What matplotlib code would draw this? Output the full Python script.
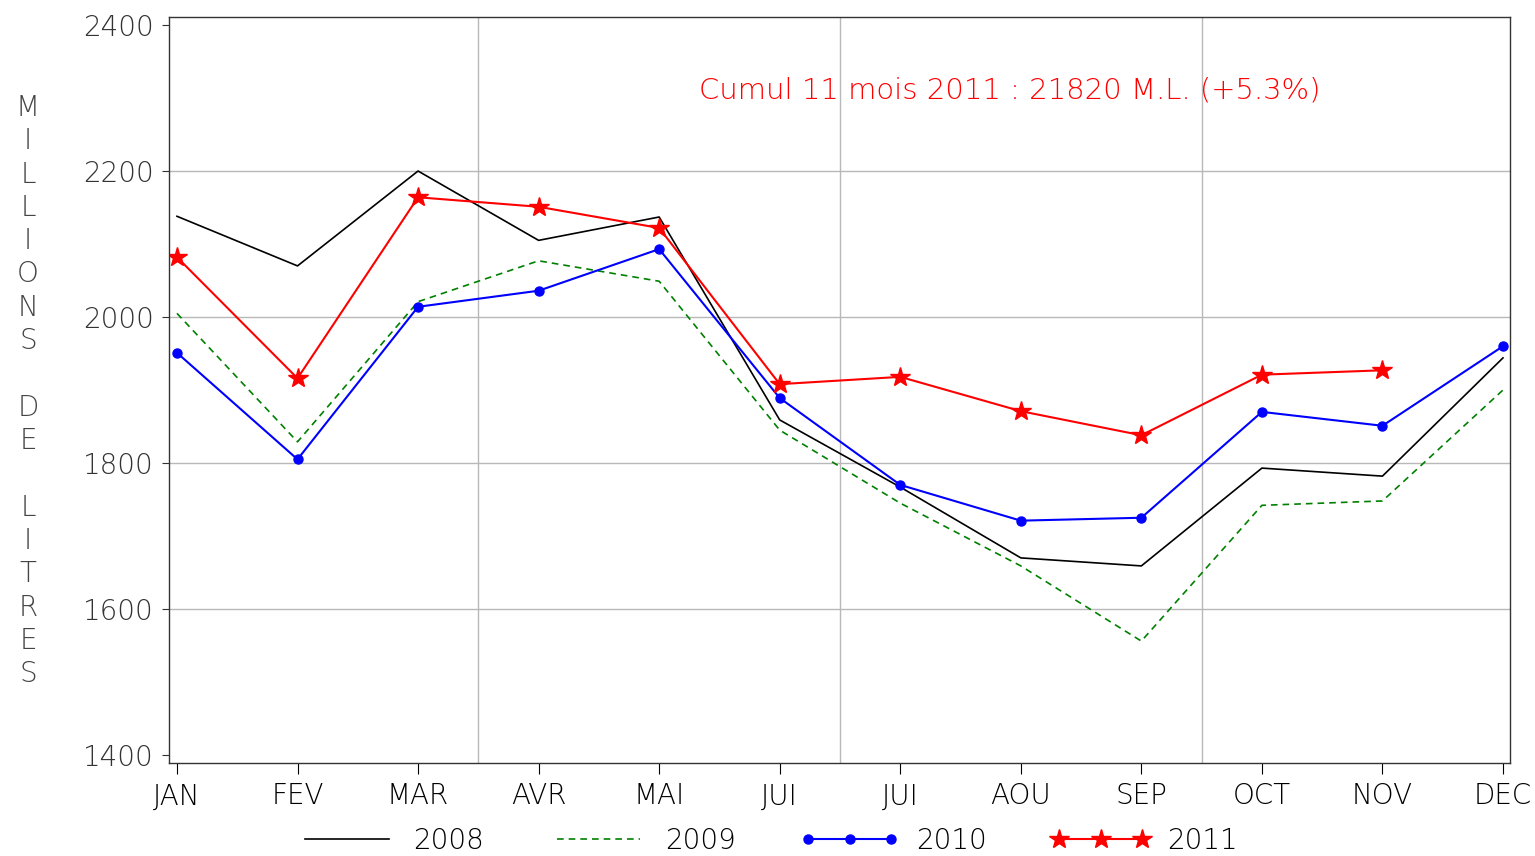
import matplotlib
matplotlib.use('Agg')
import matplotlib.pyplot as plt

plt.rcParams['font.family'] = ['DejaVu Sans']
plt.rcParams['font.weight'] = 'light'

months = ['JAN', 'FEV', 'MAR', 'AVR', 'MAI', 'JUI', 'JUI', 'AOU', 'SEP', 'OCT', 'NOV', 'DEC']
y2008 = [2138, 2070, 2200, 2105, 2137, 1859, 1767, 1670, 1659, 1793, 1782, 1944]
y2009 = [2005, 1829, 2021, 2077, 2049, 1845, 1745, 1659, 1556, 1742, 1748, 1900]
y2010 = [1951, 1805, 2014, 2036, 2093, 1889, 1770, 1721, 1725, 1870, 1851, 1960]
y2011 = [2082, 1916, 2164, 2151, 2122, 1908, 1918, 1871, 1838, 1921, 1927]
quarter_lines = [2.5, 5.5, 8.5]
yticks = [1400, 1600, 1800, 2000, 2200, 2400]
ylabel = 'MILLIONS DE LITRES'
note = 'Cumul 11 mois 2011 : 21820 M.L. (+5.3%)'

fig = plt.figure(figsize=(15.35, 8.56), dpi=100)
ax = fig.add_axes([169 / 1535, 1 - 763 / 856, (1510 - 169) / 1535, (763 - 17) / 856])

x = list(range(len(months)))
for q in quarter_lines:
    ax.axvline(q, color='#b8b8b8', lw=1, zorder=0)
for t in yticks[1:-1]:
    ax.axhline(t, color='#b8b8b8', lw=1, zorder=0)

ax.plot(x, y2008, color='black', lw=1.2, label='2008')
ax.plot(x, y2009, color='green', lw=1.2, ls=(0, (4, 3)), label='2009')
ax.plot(x, y2010, color='blue', lw=1.5, marker='o', ms=6.5, label='2010')
ax.plot(x[:len(y2011)], y2011, color='red', lw=1.5, marker='*', ms=15, label='2011')

ax.set_xlim(-0.066, 11.058)
ax.set_ylim(1389, 2411)
ax.set_xticks(x)
ax.set_xticklabels(months)
ax.set_yticks(yticks)
ax.tick_params(axis='x', direction='out', length=8, pad=6, labelsize=20, colors='black')
ax.tick_params(axis='y', direction='out', length=5, pad=6, labelsize=20, colors='#333333')
for s in ax.spines.values():
    s.set_color('#333333')
    s.set_linewidth(1)

ax.text(0.627, 0.902, note, transform=ax.transAxes, color='red', fontsize=21,
        ha='center', va='center')

# letters of the y label stacked one per line
ypos = 108
for ch in ylabel:
    if ch != ' ':
        fig.text(28 / 1535, 1 - ypos / 856, ch, fontsize=20, color='#444444',
                 ha='center', va='center')
    ypos += 33.3

fig.legend(loc='center', bbox_to_anchor=(0.5, 1 - 841 / 856), ncol=4, frameon=False,
           fontsize=20, handlelength=3.6, handletextpad=0.6, columnspacing=2.3,
           numpoints=3, borderpad=0.1)

fig.savefig('out.png', dpi=100)
